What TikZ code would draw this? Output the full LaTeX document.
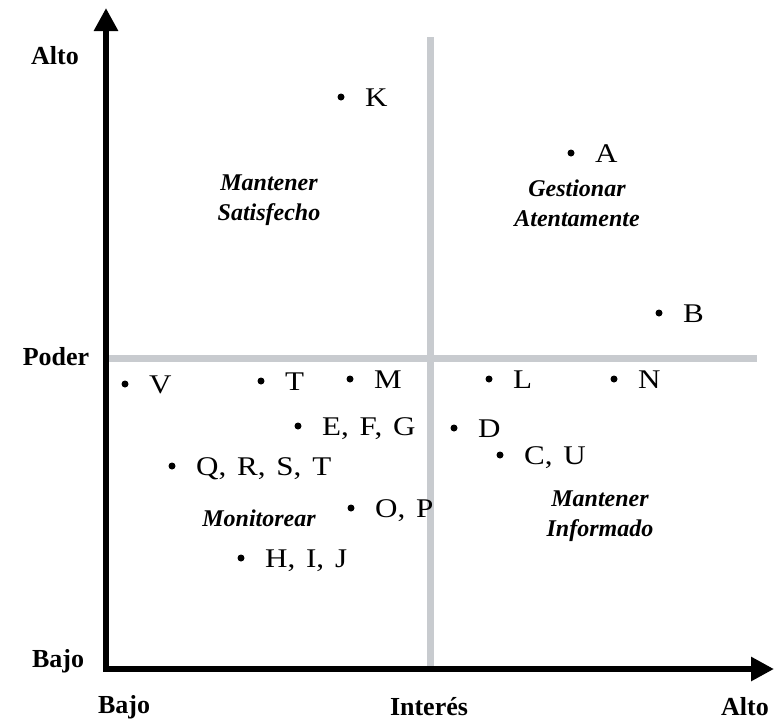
\documentclass[tikz,border=0pt]{standalone}
\usepackage{fontspec}
\setmainfont{Liberation Serif}
\newfontfamily\ptfont{Liberation Serif}[FakeStretch=1.15]
\usetikzlibrary{arrows.meta}
\definecolor{gridgray}{RGB}{200,203,207}
\tikzset{
  axis/.style={line width=6pt, -{Triangle[length=23pt,width=23pt]}},
  divider/.style={line width=7pt, gridgray},
  dot/.style={circle, fill=black, inner sep=0pt, minimum size=7pt},
  lbl/.style={anchor=base west, inner sep=0pt, font=\fontsize{27}{30}\ptfont},
  axlbl/.style={inner sep=0pt, font=\fontsize{26}{28}\selectfont\bfseries},
  quad/.style={inner sep=0pt, align=center, font=\fontsize{24}{30}\selectfont\bfseries\itshape},
}
\newcommand{\gp}{,\hspace{0.4em}}
\begin{document}
\begin{tikzpicture}[x=1pt,y=-1pt]
\useasboundingbox (0,0) rectangle (774,724);
% dividers
\coordinate (vt) at (430,37);
\coordinate (vb) at (430,669);
\coordinate (hl) at (109,358);
\coordinate (hr) at (757,358);
\draw[divider] (vt) -- (vb);
\draw[divider] (hl) -- (hr);
% axes
\coordinate (o) at (106,669);
\coordinate (ytip) at (106,8);
\coordinate (xtip) at (774,669);
\draw[axis] ([yshift=3pt]o) -- (ytip);
\draw[axis] ([xshift=-3pt]o) -- (xtip);
% axis labels
\node[axlbl] (alto1) at (55,56) {Alto};
\node[axlbl] (poder) at (56,357) {Poder};
\node[axlbl] (bajo1) at (58,661) {Bajo};
\node[axlbl] (bajo2) at (124,707) {Bajo};
\node[axlbl] (interes) at (429,707) {Interés};
\node[axlbl] (alto2) at (745,707) {Alto};
% quadrant labels
\node[quad] (q1) at (269,200) {Mantener\\Satisfecho};
\node[quad] (q2) at (577,203) {Gestionar\\Atentamente};
\node[quad] (q3) at (259,518) {Monitorear};
\node[quad] (q4) at (600,516) {Mantener\\Informado};
% points
\foreach \n/\x/\y/\t in {K/341/97/K, A/571/153/A, B/659/313/B, V/125/384/V,
  T/261/381/T, M/350/379/M, L/489/379/L, N/614/379/N, EFG/298/426/{E\gp F\gp G},
  D/454/428/D, QRST/172/466/{Q\gp R\gp S\gp T}, CU/500/455/{C\gp U},
  OP/351/508/{O\gp P}, HIJ/241/558/{H\gp I\gp J}}{
  \node[dot] (\n) at (\x,\y) {};
  \node[lbl] (\n-t) at ([xshift=24pt,yshift=-9pt]\n.center) {\t};
}
\end{tikzpicture}
\end{document}
